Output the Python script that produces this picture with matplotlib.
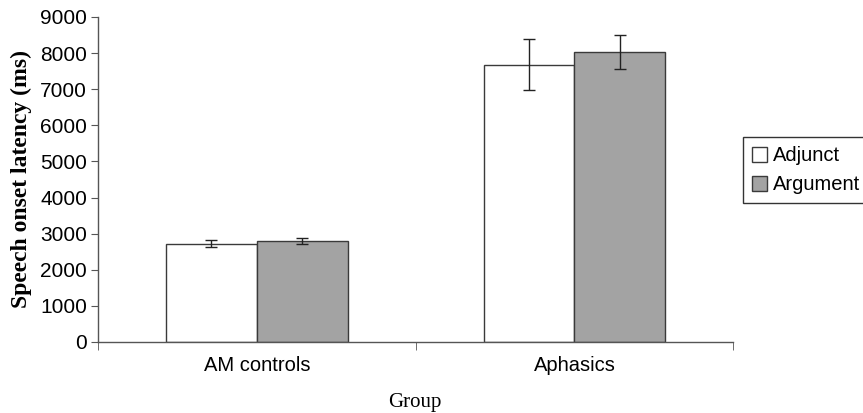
"""Speech onset latency by group and condition"""

import matplotlib
matplotlib.use("Agg")
import matplotlib.pyplot as plt
import numpy as np

groups = ["AM controls", "Aphasics"]
conditions = ["Adjunct", "Argument"]
adjunct_ms = [2725, 7675]
adjunct_err = [90, 710]
argument_ms = [2795, 8030]
argument_err = [80, 470]

plt.rcParams["font.family"] = ["Liberation Sans", "DejaVu Sans"]

fig = plt.figure(figsize=(8.63, 4.13), dpi=100)
ax = fig.add_axes([0.1136, 0.172, 0.736, 0.787])

x = np.arange(len(groups))
width = 0.286
edge = "#3a3a3a"
err_kw = dict(ecolor="#222222", elinewidth=1.0, capsize=4, capthick=1.0)
ax.bar(x - width / 2, adjunct_ms, width, yerr=adjunct_err, color="white",
       edgecolor=edge, linewidth=1.0, label=conditions[0], error_kw=err_kw)
ax.bar(x + width / 2, argument_ms, width, yerr=argument_err, color="#a3a3a3",
       edgecolor=edge, linewidth=1.0, label=conditions[1], error_kw=err_kw)

ax.set_xlim(-0.5, len(groups) - 0.5)
ax.set_ylim(0, 9000)
ax.set_yticks(np.arange(0, 9001, 1000))
ax.set_xticks(x)
ax.set_xticklabels(groups, fontsize=14.5)
ax.set_xticks(np.arange(-0.5, len(groups), 1.0), minor=True)
ax.tick_params(axis="x", which="major", length=0, pad=10)
ax.tick_params(axis="x", which="minor", length=6, color="#555555", direction="out")
ax.tick_params(axis="y", labelsize=15, length=5, color="#555555", pad=3)

for side in ["top", "right"]:
    ax.spines[side].set_visible(False)
for side in ["left", "bottom"]:
    ax.spines[side].set_color("#555555")
    ax.spines[side].set_linewidth(1.0)

ax.set_ylabel("Speech onset latency (ms)", family="Liberation Serif",
              fontweight="bold", fontsize=17, labelpad=6)
fig.text(0.481, 0.025, "Group", family="Liberation Serif", fontsize=15,
         ha="center", va="center")

leg = ax.legend(loc="upper left", bbox_to_anchor=(0.861, 0.668),
                bbox_transform=fig.transFigure, fontsize=14.5, frameon=True,
                fancybox=False, edgecolor="black", handlelength=0.75,
                handleheight=0.75, handletextpad=0.3, borderpad=0.45,
                labelspacing=0.5, borderaxespad=0)
leg.get_frame().set_linewidth(1.0)

fig.savefig("out.png", dpi=100)
